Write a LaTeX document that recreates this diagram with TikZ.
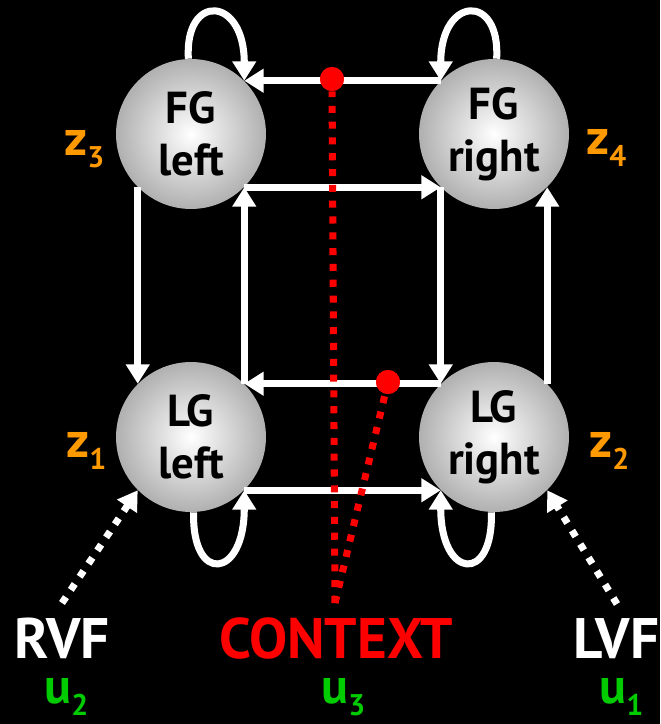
\documentclass[tikz,border=0pt]{standalone}
\usepackage{fontspec}
\setmainfont{PT Sans}
\usetikzlibrary{arrows.meta}
\definecolor{zorange}{RGB}{255,153,0}
\definecolor{ugreen}{RGB}{0,204,0}
\newcommand{\lowidx}[1]{\raisebox{-7pt}{\fontsize{17}{17}\selectfont #1}}

\begin{document}
\begin{tikzpicture}[x=0.02cm, y=-0.02cm,
  area/.style={circle, minimum size=3cm, inner sep=0pt, shade, inner color=white,
    outer color=gray!62, align=center, font=\fontsize{25.5}{29.5}\selectfont\bfseries},
  link/.style={draw=white, line width=4pt, -{Triangle[length=11pt,width=13pt]}},
  vfarrow/.style={link, dash pattern=on 4pt off 5pt},
  context/.style={draw=red, line width=4pt, dash pattern=on 4pt off 5pt},
  gate/.style={circle, fill=red, minimum size=0.48cm, inner sep=0pt},
  zlab/.style={anchor=base west, inner sep=0pt, text=zorange, font=\fontsize{28.5}{28.5}\selectfont\bfseries},
  ulab/.style={anchor=base west, inner sep=0pt, text=ugreen, font=\fontsize{28.5}{28.5}\selectfont\bfseries},
  field/.style={anchor=base, inner sep=0pt, font=\fontsize{32.5}{32.5}\selectfont\bfseries}]
  % background
  \useasboundingbox (0,0) rectangle (660,724);
  \fill[black] (0,0) rectangle (660,724);
  % areas
  \node[area] (fgl) at (191,134) {FG\\left};
  \node[area] (fgr) at (494,134) {FG\\right};
  \node[area] (lgl) at (191,437) {LG\\left};
  \node[area] (lgr) at (494,437) {LG\\right};
  % state labels
  \node[zlab] (z3) at (64,155) {z\lowidx{3}};
  \node[zlab] (z4) at (586,154) {z\lowidx{4}};
  \node[zlab] (z1) at (66,457) {z\lowidx{1}};
  \node[zlab] (z2) at (589,457) {z\lowidx{2}};
  % inputs
  \node[field, text=white] (rvf) at (62,658) {RVF};
  \node[field, text=red] (ctx) at (336,658) {CONTEXT};
  \node[field, text=white] (lvf) at (616,658) {LVF};
  \node[ulab] (u2) at (44,703) {u\lowidx{2}};
  \node[ulab] (u3) at (321,703) {u\lowidx{3}};
  \node[ulab] (u1) at (599,703) {u\lowidx{1}};
  \coordinate (rvftop) at (62,603);
  \coordinate (lvftop) at (617,604);
  \coordinate (ctxtop) at (335,603);
  % connections between areas
  \draw[link] (fgr.135) -- (fgl.45);
  \draw[link] (fgl.-45) -- (fgr.-135);
  \draw[link] (lgr.135) -- (lgl.45);
  \draw[link] (lgl.-45) -- (lgr.-135);
  \draw[link] (fgl.-135) -- (lgl.135);
  \draw[link] (lgl.45) -- (fgl.-45);
  \draw[link] (fgr.-135) -- (lgr.135);
  \draw[link] (lgr.45) -- (fgr.-45);
  % self loops
  \draw[link] (fgl.92) .. controls +(-4,-66) and +(0,-85) .. (fgl.45);
  \draw[link] (fgr.88) .. controls +(4,-66) and +(0,-85) .. (fgr.135);
  \draw[link] (lgl.-88) .. controls +(-2,72) and +(0,89) .. (lgl.-45);
  \draw[link] (lgr.-92) .. controls +(2,72) and +(0,89) .. (lgr.-135);
  % driving inputs
  \draw[vfarrow] (rvftop) -- (lgl.-135);
  \draw[vfarrow] (lvftop) -- (lgr.-45);
  % contextual modulation
  \node[gate] (g1) at (332,79) {};
  \node[gate] (g2) at (388,382) {};
  \draw[context] (ctxtop) -- (g1);
  \draw[context] (ctxtop) -- (g2);
  \node[gate] at (g1) {};
  \node[gate] at (g2) {};
\end{tikzpicture}
\end{document}
